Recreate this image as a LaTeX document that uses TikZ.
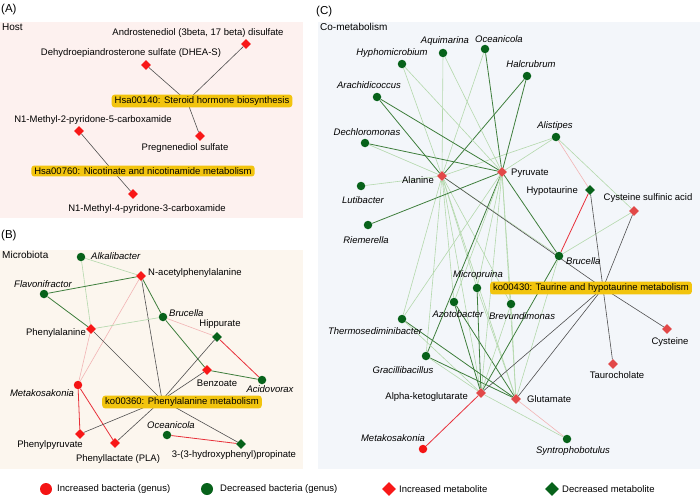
\documentclass[tikz,border=0pt]{standalone}
\usepackage{fontspec}
\setmainfont{Liberation Sans}
\usetikzlibrary{shapes.geometric}
\pgfdeclarelayer{bg}
\pgfdeclarelayer{edges}
\pgfsetlayers{bg,edges,main}
\definecolor{incred}{HTML}{F41414}
\definecolor{metred}{HTML}{F81818}
\definecolor{metredC}{HTML}{E24848}
\definecolor{decgreen}{HTML}{07621A}
\definecolor{lgreen}{HTML}{B4D8AC}
\definecolor{dgreen}{HTML}{3E7E3C}
\definecolor{egray}{HTML}{505050}
\definecolor{ered}{HTML}{E8303A}
\definecolor{epink}{HTML}{F2B4B4}
\definecolor{pwyellow}{HTML}{F2C40E}
\definecolor{bgA}{HTML}{FDF1EF}
\definecolor{bgB}{HTML}{FCF6EE}
\definecolor{bgC}{HTML}{F3F6FA}
\begin{document}
\begin{tikzpicture}[x=1pt,y=-1pt,
  inc/.style={circle, fill=incred, minimum size=8.5pt, inner sep=0pt},
  dec/.style={circle, fill=decgreen, minimum size=8.5pt, inner sep=0pt},
  incm/.style={diamond, fill=metred, minimum size=10pt, inner sep=0pt},
  incmC/.style={diamond, fill=metredC, minimum size=10pt, inner sep=0pt},
  decm/.style={diamond, fill=decgreen, minimum size=10pt, inner sep=0pt},
  txt/.style={font=\fontsize{9.5}{11}\selectfont, inner sep=0pt},
  itxt/.style={font=\fontsize{9.5}{11}\selectfont\itshape, inner sep=0pt},
  ttl/.style={font=\fontsize{11.5}{13}\selectfont, inner sep=0pt, anchor=west},
  sub/.style={font=\fontsize{10}{12}\selectfont, inner sep=0pt, anchor=west},
  pwbox/.style={fill=pwyellow, rounded corners=3pt, inner xsep=3pt, inner ysep=2pt, font=\fontsize{9.5}{11}\selectfont},
  eL/.style={draw=lgreen, line width=0.6pt},
  eD/.style={draw=dgreen, line width=0.8pt},
  eG/.style={draw=egray, line width=0.6pt},
  eR/.style={draw=ered, line width=0.8pt},
  eP/.style={draw=epink, line width=0.6pt}
]
\useasboundingbox (0,0) rectangle (700,495);
\begin{pgfonlayer}{bg}
\fill[white] (0,0) rectangle (700,495);
\fill[bgA] (0,22) rectangle (303,218);
\fill[bgB] (0,250) rectangle (303,469);
\fill[bgC] (318,22) rectangle (700,469);
\end{pgfonlayer}

% ---------- Panel A ----------
\node[ttl] (tA) at (1,10) {(A)};
\node[sub] (sA) at (2,27) {Host};
\node[incm] (dAndro) at (246,44) {};
\node[txt] (lAndro) at (198,33) {Androstenediol (3beta, 17 beta) disulfate};
\node[incm] (dDHEA) at (146,65) {};
\node[txt] (lDHEA) at (131,53) {Dehydroepiandrosterone sulfate (DHEA-S)};
\coordinate (p140) at (187,101);
\node[incm] (dPreg) at (200,136) {};
\node[txt] (lPreg) at (185,148) {Pregnenediol sulfate};
\node[incm] (dN2) at (79,131) {};
\node[txt] (lN2) at (93,120) {N1-Methyl-2-pyridone-5-carboxamide};
\coordinate (p760) at (113,171);
\node[incm] (dN4) at (133,194) {};
\node[txt] (lN4) at (147,209) {N1-Methyl-4-pyridone-3-carboxamide};
\begin{pgfonlayer}{edges}
\draw[eG] (p140) -- (dAndro);
\draw[eG] (p140) -- (dDHEA);
\draw[eG] (p140) -- (dPreg);
\draw[eG] (p760) -- (dN2);
\draw[eG] (p760) -- (dN4);
\end{pgfonlayer}
\node[pwbox] (b140) at (202,101) {Hsa00140: Steroid hormone biosynthesis};
\node[pwbox] (b760) at (143,171) {Hsa00760: Nicotinate and nicotinamide metabolism};

% ---------- Panel B ----------
\node[ttl] (tB) at (1,236) {(B)};
\node[sub] (sB) at (2,255) {Microbiota};
\node[dec] (cAlk) at (81,257) {};
\node[itxt, anchor=west] (lAlk) at (91,256) {Alkalibacter};
\node[incm] (dNac) at (141,276) {};
\node[txt, anchor=west] (lNac) at (148,273) {N-acetylphenylalanine};
\node[dec] (cFla) at (44,294) {};
\node[itxt] (lFla) at (43,284) {Flavonifractor};
\node[dec] (cBruB) at (163,317) {};
\node[itxt, anchor=west] (lBruB) at (169,313) {Brucella};
\node[decm] (dHip) at (217,337) {};
\node[txt] (lHip) at (220,324) {Hippurate};
\node[incm] (dPhe) at (91,329) {};
\node[txt, anchor=east] (lPhe) at (86,333) {Phenylalanine};
\node[incm] (dBen) at (207,370) {};
\node[txt] (lBen) at (217,383) {Benzoate};
\node[dec] (cAci) at (262,380) {};
\node[itxt] (lAci) at (270,389) {Acidovorax};
\node[inc] (cMetB) at (78,385) {};
\node[itxt] (lMetB) at (42,393) {Metakosakonia};
\coordinate (pB) at (162,400);
\node[dec] (cOceB) at (167,435) {};
\node[itxt] (lOceB) at (171,425) {Oceanicola};
\node[incm] (dPpy) at (80,434) {};
\node[txt] (lPpy) at (50,445) {Phenylpyruvate};
\node[incm] (dPLA) at (115,443) {};
\node[txt] (lPLA) at (118,459) {Phenyllactate (PLA)};
\node[decm] (dHPP) at (241,444) {};
\node[txt] (lHPP) at (234,455) {3-(3-hydroxyphenyl)propinate};
\begin{pgfonlayer}{edges}
\draw[eL] (cAlk) -- (dNac);
\draw[eL] (cAlk) -- (dPhe);
\draw[eD] (cFla) -- (dNac);
\draw[eD] (cFla) -- (dPhe);
\draw[eP] (dNac) -- (cMetB);
\draw[eP] (dPhe) -- (cMetB);
\draw[eD] (dNac) -- (cBruB);
\draw[eG] (dNac) -- (pB);
\draw[eL] (dPhe) -- (cBruB);
\draw[eG] (dPhe) -- (pB);
\draw[eP] (cBruB) -- (dHip);
\draw[eD] (cBruB) -- (dBen);
\draw[eR] (dHip) -- (cAci);
\draw[eG] (dHip) -- (pB);
\draw[eD] (dBen) -- (cAci);
\draw[eG] (dBen) -- (pB);
\draw[eR] (cMetB) -- (dPpy);
\draw[eR] (cMetB) -- (dPLA);
\draw[eG] (dPpy) -- (pB);
\draw[eG] (dPLA) -- (pB);
\draw[eG] (dHPP) -- (pB);
\draw[eR] (cOceB) -- (dHPP);
\end{pgfonlayer}
\node[pwbox] (b360) at (182,402) {ko00360: Phenylalanine metabolism};

% ---------- Panel C ----------
\node[ttl] (tC) at (316,12) {(C)};
\node[sub] (sC) at (320,27) {Co-metabolism};
\node[dec] (cAqu) at (443,53) {};
\node[itxt] (lAqu) at (445,41) {Aquimarina};
\node[dec] (cOceC) at (485,49) {};
\node[itxt] (lOceC) at (499,39) {Oceanicola};
\node[dec] (cHyp) at (402,64) {};
\node[itxt] (lHyp) at (392,53) {Hyphomicrobium};
\node[dec] (cHal) at (527,76) {};
\node[itxt] (lHal) at (531,64) {Halcrubrum};
\node[dec] (cAra) at (377,97) {};
\node[itxt] (lAra) at (369,85) {Arachidicoccus};
\node[dec] (cAli) at (556,137) {};
\node[itxt] (lAli) at (555,126) {Alistipes};
\node[dec] (cDec) at (365,143) {};
\node[itxt] (lDec) at (367,132) {Dechloromonas};
\node[incmC] (dAla) at (442,176) {};
\node[txt, anchor=east] (lAla) at (434,180) {Alanine};
\node[incmC] (dPyr) at (502,172) {};
\node[txt, anchor=west] (lPyr) at (511,173) {Pyruvate};
\node[dec] (cLut) at (361,186) {};
\node[itxt] (lLut) at (363,200) {Lutibacter};
\node[decm] (dHpt) at (590,190) {};
\node[txt, anchor=east] (lHpt) at (578,191) {Hypotaurine};
\node[incmC] (dCSA) at (634,211) {};
\node[txt] (lCSA) at (648,198) {Cysteine sulfinic acid};
\node[dec] (cRie) at (368,225) {};
\node[itxt] (lRie) at (366,240) {Riemerella};
\node[dec] (cBruC) at (559,256) {};
\node[itxt, anchor=west] (lBruC) at (566,261) {Brucella};
\node[dec] (cMic) at (477,288) {};
\node[itxt] (lMic) at (478,275) {Micropruina};
\coordinate (pC) at (603,288);
\node[dec] (cAzo) at (454,302) {};
\node[itxt] (lAzo) at (458,314) {Azotobacter};
\node[dec] (cBre) at (511,304) {};
\node[itxt] (lBre) at (522,316) {Brevundimonas};
\node[dec] (cThe) at (402,319) {};
\node[itxt] (lThe) at (375,331) {Thermosediminibacter};
\node[incmC] (dCys) at (667,329) {};
\node[txt] (lCys) at (670,342) {Cysteine};
\node[dec] (cGra) at (426,356) {};
\node[itxt] (lGra) at (403,370) {Gracillibacillus};
\node[incmC] (dTau) at (613,364) {};
\node[txt] (lTau) at (617,375) {Taurocholate};
\node[incmC] (dAKG) at (481,393) {};
\node[txt, anchor=east] (lAKG) at (468,397) {Alpha-ketoglutarate};
\node[incmC] (dGlu) at (516,399) {};
\node[txt, anchor=west] (lGlu) at (527,399) {Glutamate};
\node[inc] (cMetC) at (423,449) {};
\node[itxt] (lMetC) at (393,438) {Metakosakonia};
\node[dec] (cSyn) at (567,439) {};
\node[itxt] (lSyn) at (573,451) {Syntrophobotulus};
\begin{pgfonlayer}{edges}
% Alanine
\draw[eL] (dAla) -- (cAqu);
\draw[eL] (dAla) -- (cOceC);
\draw[eL] (dAla) -- (cHyp);
\draw[eD] (dAla) -- (cHal);
\draw[eD] (dAla) -- (cAra);
\draw[eL] (dAla) -- (cDec);
\draw[eL] (dAla) -- (cLut);
\draw[eL] (dAla) -- (cAli);
\draw[eL] (dAla) -- (cBruC);
\draw[eL] (dAla) -- (cThe);
\draw[eL] (dAla) -- (cGra);
\draw[eL] (dAla) -- (cAzo);
\draw[eL] (dAla) -- (cMic);
\draw[eL] (dAla) -- (cBre);
\draw[eL] (dAla) -- (dAKG);
\draw[eL] (dAla) -- (dGlu);
% Pyruvate
\draw[eL] (dPyr) -- (cAqu);
\draw[eD] (dPyr) -- (cOceC);
\draw[eL] (dPyr) -- (cHyp);
\draw[eD] (dPyr) -- (cHal);
\draw[eD] (dPyr) -- (cAra);
\draw[eD] (dPyr) -- (cDec);
\draw[eD] (dPyr) -- (cRie);
\draw[eL] (dPyr) -- (cAli);
\draw[eD] (dPyr) -- (cBruC);
\draw[eD] (dPyr) -- (cGra);
\draw[eL] (dPyr) -- (cThe);
\draw[eL] (dPyr) -- (cMic);
\draw[eL] (dPyr) -- (cBre);
\draw[eL] (dPyr) -- (cAzo);
\draw[eL] (dPyr) -- (dAKG);
\draw[eL] (dPyr) -- (dGlu);
% lower
\draw[eD] (cThe) -- (dGlu);
\draw[eL] (cThe) -- (dAKG);
\draw[eD] (cGra) -- (dGlu);
\draw[eL] (cGra) -- (dAKG);
\draw[eD] (cAzo) -- (dAKG);
\draw[eD] (cAzo) -- (dGlu);
\draw[eD] (cMic) -- (dAKG);
\draw[eL] (cMic) -- (dGlu);
\draw[eL] (cBre) -- (dGlu);
\draw[eL] (cBre) -- (dAKG);
\draw[eD] (cBruC) -- (dAKG);
\draw[eL] (cBruC) -- (dGlu);
\draw[eR] (cBruC) -- (dHpt);
\draw[eL] (cBruC) -- (dCSA);
\draw[eP] (cAli) -- (dHpt);
\draw[eL] (cAli) -- (dCSA);
\draw[eR] (dAKG) -- (cMetC);
\draw[eL] (dAKG) -- (cSyn);
\draw[eP] (dGlu) -- (cSyn);
% pathway
\draw[eG] (pC) -- (dAla);
\draw[eG] (pC) -- (dAKG);
\draw[eG] (pC) -- (dGlu);
\draw[eG] (pC) -- (dHpt);
\draw[eG] (pC) -- (dCSA);
\draw[eG] (pC) -- (dCys);
\draw[eG] (pC) -- (dTau);
\end{pgfonlayer}
\node[pwbox] (b430) at (591,288) {ko00430: Taurine and hypotaurine metabolism};

% ---------- Legend ----------
\node[circle, fill=incred, minimum size=12pt, inner sep=0pt] (gInc) at (46,489) {};
\node[txt, anchor=west] (tInc) at (57,489) {Increased bacteria (genus)};
\node[circle, fill=decgreen, minimum size=12pt, inner sep=0pt] (gDec) at (207,489) {};
\node[txt, anchor=west] (tDec) at (220,489) {Decreased bacteria (genus)};
\node[diamond, fill=metred, minimum size=14pt, inner sep=0pt] (gIm) at (389,489) {};
\node[txt, anchor=west] (tIm) at (399,489) {Increased metabolite};
\node[diamond, fill=decgreen, minimum size=14pt, inner sep=0pt] (gDm) at (552,489) {};
\node[txt, anchor=west] (tDm) at (562,489) {Decreased metabolite};
\end{tikzpicture}
\end{document}
